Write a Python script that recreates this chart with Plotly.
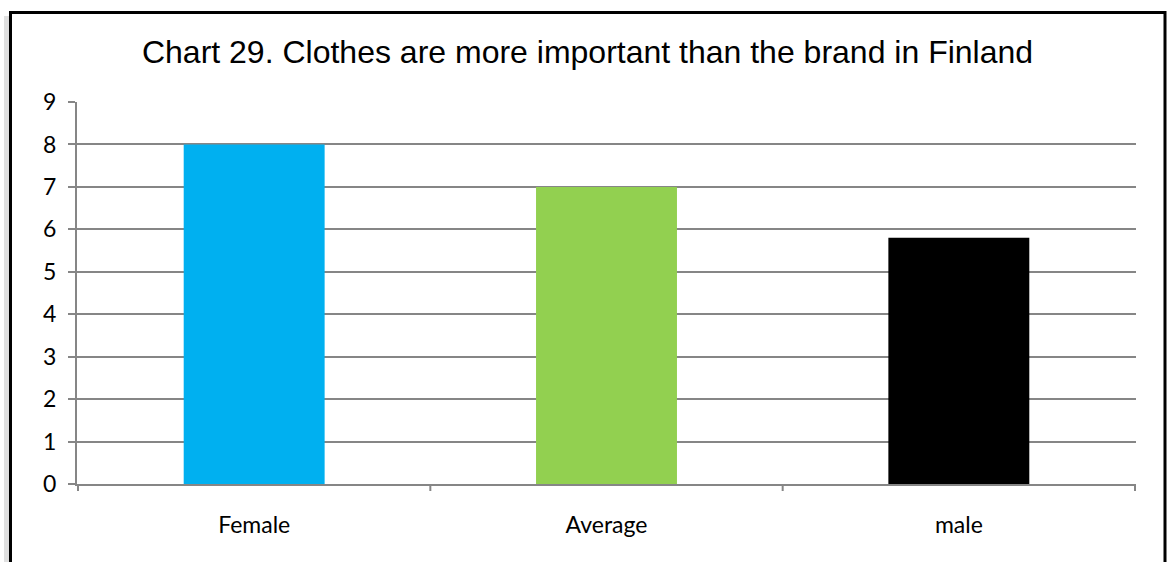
import plotly.graph_objects as go

categories = ["Female", "Average", "male"]
values = [8, 7, 5.8]
bar_colors = ["#00B0F0", "#92D050", "#000000"]
y_ticks = list(range(0, 10))

W, H = 1167, 562
L, R, T, B = 77, 31, 102, 78
pw, ph = W - L - R, H - T - B


def px_x(x):
    return (x - L) / pw


def px_y(y):
    return (H - B - y) / ph


fig = go.Figure(
    go.Bar(
        x=categories,
        y=values,
        marker=dict(color=bar_colors, line=dict(width=0)),
        width=0.4,
        hoverinfo="x+y",
    )
)

grid_color = "#868686"
label_font = dict(family="Lato, Carlito, Calibri", size=23, color="black")

fig.update_layout(
    width=W,
    height=H,
    margin=dict(l=L, r=R, t=T, b=B, pad=0),
    paper_bgcolor="white",
    plot_bgcolor="white",
    showlegend=False,
    title=dict(
        text="Chart 29. Clothes are more important than the brand in Finland",
        font=dict(family="Liberation Sans, Arial", size=32, color="black"),
        x=587.5 / W,
        xanchor="center",
        xref="container",
        y=1 - 52 / H,
        yanchor="middle",
        yref="container",
    ),
    xaxis=dict(
        showgrid=False,
        showline=True,
        linecolor=grid_color,
        linewidth=2,
        ticks="",
        tickfont=label_font,
        ticklabelstandoff=19,
    ),
    yaxis=dict(
        range=[0, 9],
        tickvals=y_ticks,
        showgrid=True,
        gridcolor=grid_color,
        gridwidth=2,
        showline=True,
        linecolor=grid_color,
        linewidth=2,
        ticks="outside",
        ticklen=7,
        tickwidth=2,
        tickcolor=grid_color,
        zeroline=False,
        tickfont=label_font,
        ticklabelstandoff=7,
    ),
    shapes=[
        # soft shadow to the left of the frame
        dict(
            type="rect", xref="paper", yref="paper",
            x0=px_x(4), x1=px_x(10), y0=px_y(H + 10), y1=px_y(16),
            line=dict(width=0), fillcolor="rgba(0,0,0,0.12)", layer="above",
        ),
        # outer frame
        dict(
            type="rect", xref="paper", yref="paper",
            x0=px_x(10.5), x1=px_x(1165), y0=px_y(H + 10), y1=px_y(12.5),
            line=dict(color="black", width=3), fillcolor="rgba(0,0,0,0)", layer="above",
        ),
    ],
)

# category separator ticks below the x axis
for i in range(len(categories) + 1):
    fig.add_shape(
        type="line", xref="x", yref="paper",
        x0=i - 0.5, x1=i - 0.5, y0=0, y1=px_y(H - B + 7),
        line=dict(color=grid_color, width=2),
    )

fig.write_html("out.html")
